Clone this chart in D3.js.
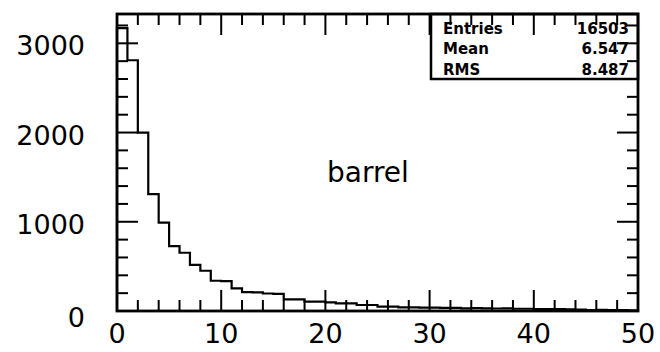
<!DOCTYPE html>
<html>
<head>
<meta charset="utf-8">
<script src="https://cdn.jsdelivr.net/npm/d3@7"></script>
<style>
  body { margin: 0; background: #fff; }
  svg { display: block; }
  text { font-family: 'DejaVu Sans', sans-serif; fill: #000; }
</style>
</head>
<body>
<script>
// histogram contents, one entry per unit bin from 0 to 50
var counts = [3170, 2810, 2000, 1310, 990, 728, 653, 518, 451, 339,
              335, 254, 212, 208, 196, 192, 131, 131, 104, 104,
              97, 86, 86, 67, 67, 48, 48, 40, 40, 37,
              37, 35, 35, 30, 32, 30, 28, 30, 25, 25,
              22, 22, 20, 18, 15, 10, 12, 10, 10, 8];
var xTicks = [0, 10, 20, 30, 40, 50];
var yTicks = [0, 1000, 2000, 3000];
var statNames = ['Entries', 'Mean', 'RMS'];
var statValues = ['16503', '6.547', '8.487'];
var label = 'barrel';

var w = 660, h = 352;
var margin = {left: 117, right: 22, top: 14, bottom: 41};

var svg = d3.select('body')
  .append('svg')
  .attr('width', w)
  .attr('height', h);

var xScale = d3.scaleLinear()
  .domain([0, counts.length])
  .range([margin.left, w - margin.right]);

var yMax = d3.max(counts) * 1.05;
var yScale = d3.scaleLinear()
  .domain([0, yMax])
  .range([h - margin.bottom, margin.top]);

var x0 = xScale.range()[0], x1 = xScale.range()[1];
var y0 = yScale.range()[0], y1 = yScale.range()[1];

// histogram outline
var pts = [[0, 0]];
counts.forEach((c, i) => pts.push([i, c]));
pts.push([counts.length, counts[counts.length - 1]]);
pts.push([counts.length, 0]);

var line = d3.line()
  .x(d => xScale(d[0]))
  .y(d => yScale(d[1]))
  .curve(d3.curveStepAfter);

svg.append('path')
  .attr('d', line(pts))
  .attr('fill', 'none')
  .attr('stroke', '#000')
  .attr('stroke-width', 2.2);

// stats box (ticks are drawn over it)
var box = svg.append('g').attr('id', 'stats');
box.append('rect')
  .attr('x', 431).attr('y', y1)
  .attr('width', x1 - 431).attr('height', 65)
  .attr('fill', 'none')
  .attr('stroke', '#000')
  .attr('stroke-width', 2.5);

statNames.forEach((s, i) => {
  box.append('text')
    .attr('x', 443).attr('y', 33.5 + i * 20.7)
    .style('font-size', '15px')
    .style('font-weight', 'bold')
    .text(s);
  box.append('text')
    .attr('x', 629).attr('y', 33.5 + i * 20.7)
    .attr('text-anchor', 'end')
    .style('font-size', '15px')
    .style('font-weight', 'bold')
    .text(statValues[i]);
});

// axes: ROOT style, ticks inside and mirrored on top / right
var xMinor = d3.range(0, counts.length + 0.001, 2);
var yMinor = d3.range(0, yMax, 200);
var major = 21, minor = 11;

var axisG = svg.append('g').attr('stroke', '#000').attr('stroke-width', 2);

xMinor.forEach(v => {
  var len = v % 10 === 0 ? major : minor;
  var x = xScale(v);
  axisG.append('line').attr('x1', x).attr('x2', x).attr('y1', y0).attr('y2', y0 - len);
  axisG.append('line').attr('x1', x).attr('x2', x).attr('y1', y1).attr('y2', y1 + len);
});

yMinor.forEach(v => {
  var len = v % 1000 === 0 ? major : minor;
  var y = yScale(v);
  axisG.append('line').attr('x1', x0).attr('x2', x0 + len).attr('y1', y).attr('y2', y);
  axisG.append('line').attr('x1', x1).attr('x2', x1 - len).attr('y1', y).attr('y2', y);
});

svg.append('rect')
  .attr('x', x0).attr('y', y1)
  .attr('width', x1 - x0).attr('height', y0 - y1)
  .attr('fill', 'none')
  .attr('stroke', '#000')
  .attr('stroke-width', 2.8);

// tick labels
svg.append('g').selectAll('text')
  .data(xTicks)
  .enter()
  .append('text')
    .attr('x', d => xScale(d))
    .attr('y', 343)
    .attr('text-anchor', 'middle')
    .style('font-size', '27px')
    .text(d => d);

svg.append('g').selectAll('text')
  .data(yTicks)
  .enter()
  .append('text')
    .attr('x', 85)
    .attr('y', d => yScale(d) + (d === 0 ? 16 : 12))
    .attr('text-anchor', 'end')
    .style('font-size', '27px')
    .text(d => d);

svg.append('text')
  .attr('x', 327).attr('y', 182)
  .style('font-size', '28px')
  .text(label);
</script>
</body>
</html>
